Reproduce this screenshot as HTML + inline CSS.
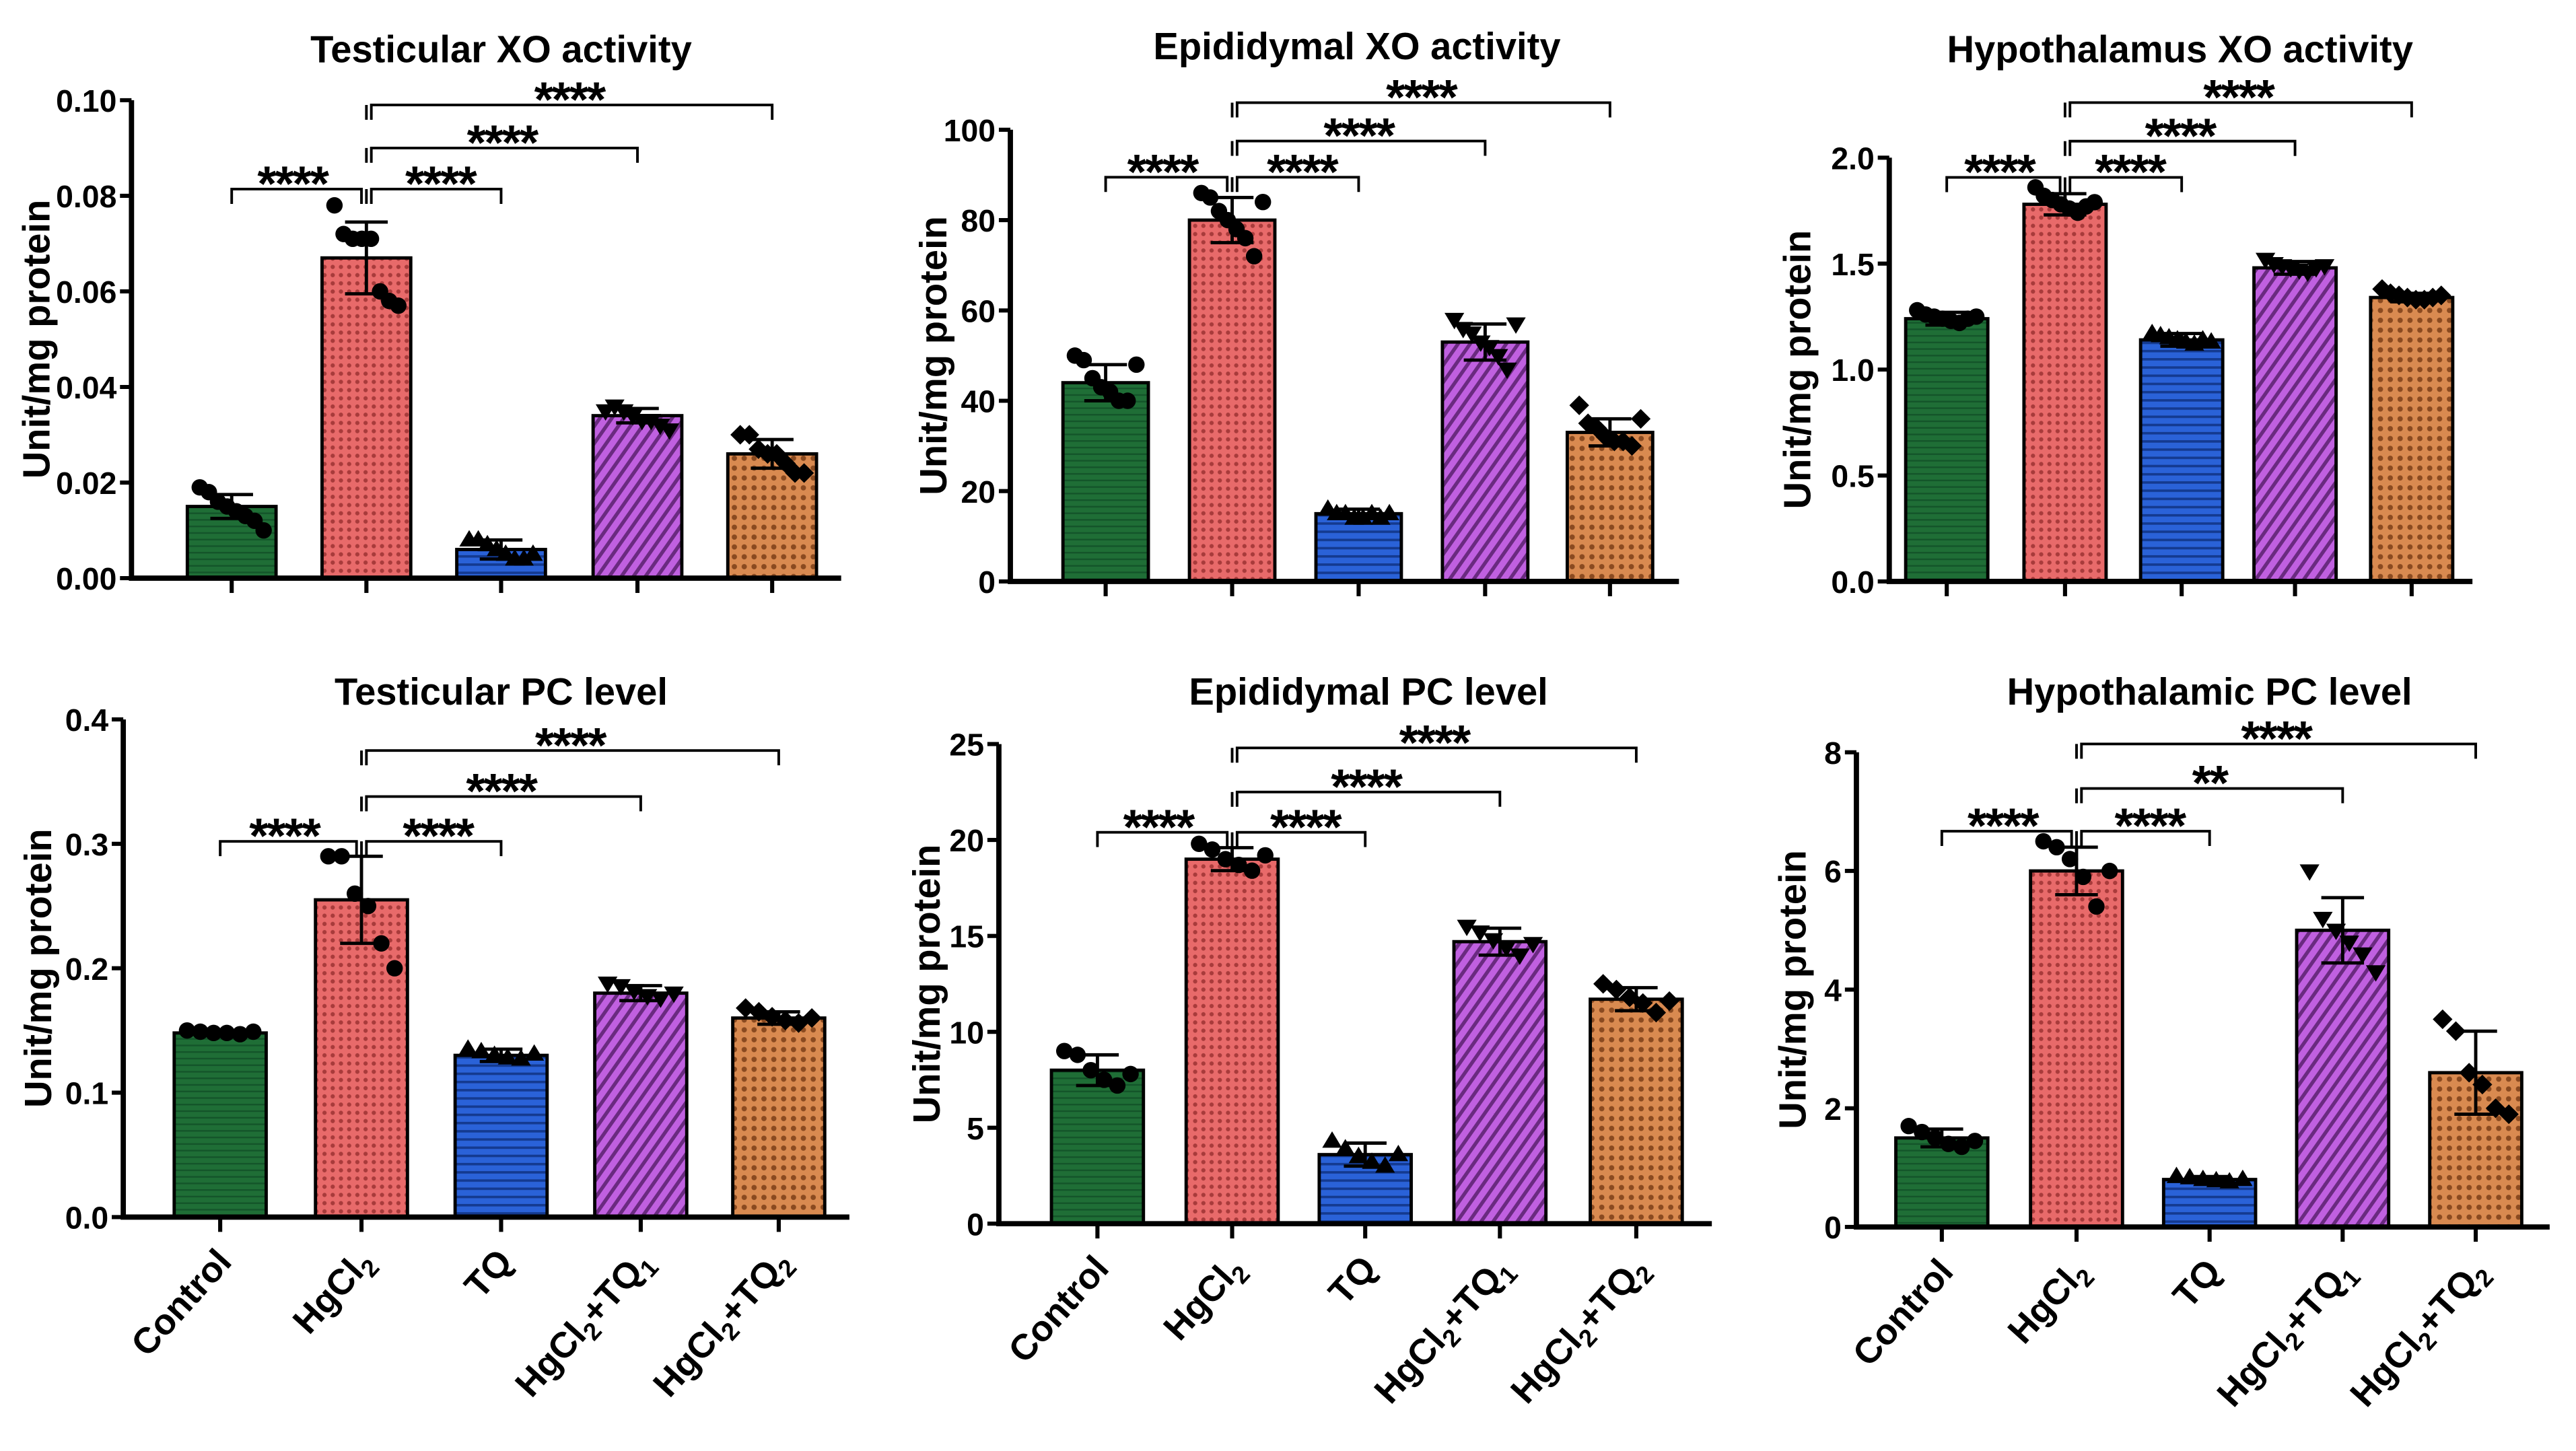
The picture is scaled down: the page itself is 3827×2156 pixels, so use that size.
<!DOCTYPE html>
<html><head><meta charset="utf-8"><style>
html,body{margin:0;padding:0;background:#fff;}
svg{display:block;font-family:"Liberation Sans",Arial,sans-serif;}
</style></head><body>
<svg id="chart" width="3827" height="2156" viewBox="0 0 1568 883.4" xmlns="http://www.w3.org/2000/svg">
<defs>
<pattern id="pG" width="4" height="4" patternUnits="userSpaceOnUse"><rect width="4" height="4" fill="#1f6e36"/><rect width="4" height="1" fill="#14552a"/></pattern>
<pattern id="pR" width="5" height="5" patternUnits="userSpaceOnUse"><rect width="5" height="5" fill="#e86a6a"/><circle cx="2.5" cy="2.5" r="1.3" fill="#a83b3b"/></pattern>
<pattern id="pB" width="5" height="5" patternUnits="userSpaceOnUse"><rect width="5" height="5" fill="#2a62d8"/><rect y="3" width="5" height="1.5" fill="#143a90"/></pattern>
<pattern id="pP" width="6" height="6" patternUnits="userSpaceOnUse" patternTransform="rotate(35)"><rect width="6" height="6" fill="#c060e0"/><rect width="2.2" height="6" fill="#6a2a80"/></pattern>
<pattern id="pO" width="6" height="6" patternUnits="userSpaceOnUse"><rect width="6" height="6" fill="#d98a50"/><circle cx="3" cy="3" r="1.6" fill="#8a4a20"/></pattern>
</defs>
<g id="root"></g>
</svg>
<script>
const categories = ["Control","HgCl2","TQ","HgCl2+TQ1","HgCl2+TQ2"];
const titles = ["Testicular XO activity","Epididymal XO activity","Hypothalamus XO activity","Testicular PC level","Epididymal PC level","Hypothalamic PC level"];
const means1 = [0.015,0.067,0.006,0.034,0.026];
const sds1 = [0.0025,0.0075,0.002,0.0015,0.003];
const means2 = [44,80,15,53,33];
const sds2 = [4,5,1,4,3];
const means3 = [1.24,1.78,1.14,1.48,1.34];
const sds3 = [0.03,0.05,0.03,0.03,0.02];
const means4 = [0.148,0.255,0.13,0.18,0.16];
const sds4 = [0.002,0.035,0.005,0.006,0.005];
const means5 = [8,19,3.6,14.7,11.7];
const sds5 = [0.8,0.6,0.6,0.7,0.6];
const means6 = [1.5,6.0,0.8,5.0,2.6];
const sds6 = [0.15,0.4,0.05,0.55,0.7];
const points1 = [[0.019,0.018,0.016,0.015,0.014,0.013,0.012,0.010],[0.078,0.072,0.071,0.071,0.071,0.060,0.058,0.057],[0.008,0.008,0.007,0.006,0.005,0.004,0.004,0.005],[0.035,0.036,0.035,0.034,0.033,0.033,0.032,0.031],[0.030,0.030,0.027,0.026,0.026,0.024,0.022,0.022]];
const points2 = [[50,49,45,43,42,40,40,48],[86,85,82,80,78,76,72,84],[16,15,15,14,14,15,14,15],[58,56,55,53,52,50,47,57],[39,35,34,32,31,31,30,36]];
const points3 = [[1.28,1.26,1.25,1.24,1.23,1.22,1.24,1.25],[1.86,1.82,1.80,1.78,1.76,1.74,1.77,1.79],[1.17,1.16,1.15,1.14,1.13,1.12,1.14,1.13],[1.52,1.50,1.49,1.48,1.47,1.46,1.48,1.49],[1.38,1.36,1.35,1.34,1.33,1.33,1.34,1.35]];
const points4 = [[0.150,0.149,0.148,0.148,0.147,0.149],[0.29,0.29,0.26,0.25,0.22,0.20],[0.135,0.133,0.130,0.128,0.127,0.131],[0.188,0.186,0.182,0.178,0.176,0.180],[0.168,0.165,0.161,0.158,0.156,0.160]];
const points5 = [[9,8.8,8,7.5,7.2,7.8],[19.8,19.5,19.0,18.7,18.4,19.2],[4.3,3.9,3.5,3.2,3.0,3.6],[15.5,15.2,14.8,14.4,14.0,14.6],[12.5,12.2,11.8,11.5,11.0,11.6]];
const points6 = [[1.7,1.6,1.5,1.4,1.35,1.45],[6.5,6.4,6.2,5.9,5.4,6.0],[0.85,0.83,0.8,0.78,0.76,0.8],[6.0,5.2,5.0,4.8,4.6,4.3],[3.5,3.3,2.6,2.4,2.0,1.9]];
const brackets1 = [[0,1,0.0814,"****"],[1,2,0.0814,"****"],[1,3,0.090,"****"],[1,4,0.099,"****"]];
const brackets2 = [[0,1,89.5,"****"],[1,2,89.5,"****"],[1,3,97.5,"****"],[1,4,106,"****"]];
const brackets3 = [[0,1,1.907,"****"],[1,2,1.907,"****"],[1,3,2.078,"****"],[1,4,2.26,"****"]];
const brackets4 = [[0,1,0.302,"****"],[1,2,0.302,"****"],[1,3,0.338,"****"],[1,4,0.375,"****"]];
const brackets5 = [[0,1,20.4,"****"],[1,2,20.4,"****"],[1,3,22.5,"****"],[1,4,24.8,"****"]];
const brackets6 = [[0,1,6.67,"****"],[1,2,6.67,"****"],[1,3,7.39,"**"],[1,4,8.14,"****"]];
const ticks1 = ["0.00","0.02","0.04","0.06","0.08","0.10"];
const ticks2 = ["0","20","40","60","80","100"];
const ticks3 = ["0.0","0.5","1.0","1.5","2.0"];
const ticks4 = ["0.0","0.1","0.2","0.3","0.4"];
const ticks5 = ["0","5","10","15","20","25"];
const ticks6 = ["0","2","4","6","8"];

const fills=["url(#pG)","url(#pR)","url(#pB)","url(#pP)","url(#pO)"];
const markers=["circle","circle","up","down","diamond"];
const NS="http://www.w3.org/2000/svg";
const root=document.getElementById('root');
function el(tag,attrs,parent,text){const e=document.createElementNS(NS,tag);for(const k in attrs)e.setAttribute(k,attrs[k]);if(text!==undefined)e.textContent=text;(parent||root).appendChild(e);return e;}

const layout=[
 {x0:80,x1:512,yT:61,yB:352,max:0.1,cx:[141,223,305,388,470],bw:54,tx:305,ty:38,lx:30,labels:false},
 {x0:615,x1:1022,yT:79,yB:354,max:100,cx:[673,750,827,904,980],bw:52,tx:826,ty:36,lx:576,labels:false},
 {x0:1150,x1:1505,yT:96,yB:354,max:2,cx:[1185,1257,1328,1397,1468],bw:50,tx:1327,ty:38,lx:1102,labels:false},
 {x0:75,x1:517,yT:438,yB:741,max:0.4,cx:[134,220,305,390,474],bw:56,tx:305,ty:429,lx:31,labels:true},
 {x0:608,x1:1042,yT:453,yB:745,max:25,cx:[668,750,831,913,996],bw:56,tx:833,ty:429,lx:572,labels:true},
 {x0:1130,x1:1552,yT:458,yB:747,max:8,cx:[1182,1264,1345,1426,1507],bw:56,tx:1345,ty:429,lx:1099,labels:true}
];
const allMeans=[means1,means2,means3,means4,means5,means6];
const allSds=[sds1,sds2,sds3,sds4,sds5,sds6];
const allPts=[points1,points2,points3,points4,points5,points6];
const allBr=[brackets1,brackets2,brackets3,brackets4,brackets5,brackets6];
const allTicks=[ticks1,ticks2,ticks3,ticks4,ticks5,ticks6];

layout.forEach((L,p)=>{
 const g=el('g',{});
 
 
 const y=v=>L.yB-(L.yB-L.yT)*v/L.max;
 const t=el('text',{x:L.tx,y:L.ty,'text-anchor':'middle','font-size':23,'font-weight':'bold'},g,titles[p]);
 
 
 allMeans[p].forEach((m,i)=>{
  const r=el('rect',{x:L.cx[i]-L.bw/2,y:y(m),width:L.bw,height:L.yB-y(m),fill:fills[i],stroke:'#000','stroke-width':2},g);
  
  
 });
 allPts[p].forEach((arr,i)=>{
  arr.forEach((v,j)=>{
   const px=L.cx[i]-L.bw*0.36+L.bw*0.72*j/(arr.length-1), py=y(v);
   let m;
   if(markers[i]==='circle') m=el('circle',{cx:px,cy:py,r:5,fill:'#000'},g);
   else if(markers[i]==='up') m=el('polygon',{points:`${px},${py-6} ${px-6},${py+4} ${px+6},${py+4}`,fill:'#000'},g);
   else if(markers[i]==='down') m=el('polygon',{points:`${px},${py+6} ${px-6},${py-4} ${px+6},${py-4}`,fill:'#000'},g);
   else m=el('polygon',{points:`${px},${py-6} ${px+6},${py} ${px},${py+6} ${px-6},${py}`,fill:'#000'},g);
   
   
  });
 });
 allMeans[p].forEach((mv,i)=>{
  const s=allSds[p][i],cx=L.cx[i];
  const e=el('path',{d:`M${cx},${y(mv-s)}V${y(mv+s)}M${cx-13},${y(mv+s)}H${cx+13}M${cx-13},${y(mv-s)}H${cx+13}`,stroke:'#000','stroke-width':2,fill:'none'},g);
  
  
 });
 const ax=el('path',{d:`M${L.x0},${L.yT}V${L.yB}H${L.x1}`,stroke:'#000','stroke-width':3.2,fill:'none'},g);
 
 
 const tk=allTicks[p];
 tk.forEach((lab,i)=>{
  const v=L.max*i/(tk.length-1), ty=y(v);
  el('line',{x1:L.x0-7,x2:L.x0,y1:ty,y2:ty,stroke:'#000','stroke-width':2.5},g);
  const tt=el('text',{x:L.x0-9,y:ty+7,'text-anchor':'end','font-size':19,'font-weight':'bold'},g,lab);
  
  
 });
 L.cx.forEach(cx=>el('line',{x1:cx,x2:cx,y1:L.yB,y2:L.yB+9,stroke:'#000','stroke-width':2.5},g));
 const yl=el('text',{x:0,y:0,transform:`translate(${L.lx},${(L.yT+L.yB)/2}) rotate(-90)`,'text-anchor':'middle','font-size':23,'font-weight':'bold'},g,'Unit/mg protein');
 
 
 allBr[p].forEach(b=>{
  const x1=b[0]===0?L.cx[0]:L.cx[1]+3, x2=b[0]===0?L.cx[1]-3:L.cx[b[1]];
  const by=y(b[2]);
  const br=el('path',{d:`M${x1},${by+9}V${by}H${x2}V${by+9}`,stroke:'#000','stroke-width':1.6,fill:'none'},g);
  
  
  if(b[0]===1) el('line',{x1:L.cx[1],x2:L.cx[1],y1:by,y2:by+9,stroke:'#000','stroke-width':1.6},g);
  const mx=b[0]===0?(L.cx[0]+L.cx[1])/2-4:(b[1]===2?(L.cx[1]+L.cx[2])/2+4:(L.cx[1]+L.cx[b[1]])/2);
  const st=el('text',{x:mx,y:by+7,'text-anchor':'middle','font-size':30,'font-weight':'bold','letter-spacing':'-1'},g,b[3]);
  
  
 });
 if(L.labels){
  categories.forEach((c,i)=>{
   const tx=L.cx[i]+8, ty=L.yB+28;
   const xt=el('text',{x:0,y:0,transform:`translate(${tx},${ty}) rotate(-48)`,'text-anchor':'end','font-size':22,'font-weight':'bold'},g);
   
   
   const parts=c==='Control'?[['Control',0]]:c==='TQ'?[['TQ',0]]:c==='HgCl2'?[['HgCl',0],['2',1]]:c==='HgCl2+TQ1'?[['HgCl',0],['2',1],['+TQ',0],['1',1]]:[['HgCl',0],['2',1],['+TQ',0],['2',1]];
   parts.forEach(pp=>{el('tspan',pp[1]?{'font-size':15,dy:5}:{dy:0},xt,pp[0]);});
   const ts=xt.querySelectorAll('tspan');
   for(let k=1;k<ts.length;k++){if(ts[k-1].getAttribute('dy')==='5'&&ts[k].getAttribute('dy')==='0')ts[k].setAttribute('dy','-5');}
  });
 }
});
</script>
</body></html>
